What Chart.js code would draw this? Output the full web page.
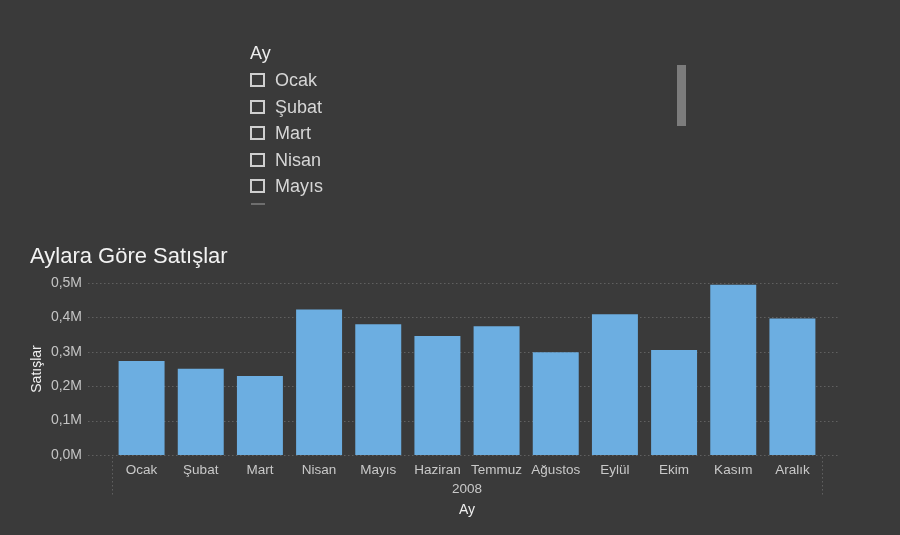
<!DOCTYPE html>
<html>
<head>
<meta charset="utf-8">
<script src="https://cdn.jsdelivr.net/npm/chart.js@4.4.1/dist/chart.umd.min.js"></script>
<style>
  html, body { margin:0; padding:0; background:#3a3a3a; width:900px; height:535px; overflow:hidden; }
  body { position:relative; font-family:"Liberation Sans", Arial, sans-serif; }
  #wrap { position:absolute; left:0; top:0; width:900px; height:535px; }
  .txt { position:absolute; white-space:nowrap; line-height:1; }
  .slHead { left:250px; top:44px; font-size:18px; color:#ececec; }
  .item { position:absolute; left:250px; height:20px; }
  .item .box { position:absolute; left:0px; top:1px; width:11px; height:10px; border:2px solid #cfcfcf; }
  .item .lab { position:absolute; left:25px; top:-1px; font-size:18px; color:#d6d6d6; line-height:18px; }
  .scroll { position:absolute; left:677px; top:65px; width:9px; height:61px; background:#7c7c7c; }
  .cut { position:absolute; left:251px; top:203px; width:14px; height:2px; background:#6e6e6e; }
  .title { left:30px; top:245px; font-size:22px; color:#f2f2f2; }
</style>
</head>
<body>
<div id="wrap"><canvas id="c" width="900" height="535"></canvas></div>
<div class="txt slHead">Ay</div>
<div id="slicer"></div>
<div class="scroll"></div>
<div class="cut"></div>
<div class="txt title">Aylara Göre Satışlar</div>
<script>
// ---- data ----
const months = ["Ocak","Şubat","Mart","Nisan","Mayıs","Haziran","Temmuz","Ağustos","Eylül","Ekim","Kasım","Aralık"];
const sales = [273000, 251000, 230000, 423000, 380000, 346000, 374000, 299000, 409000, 305000, 495000, 397000];
const yearLabels = ["2008"];
const slicerItems = ["Ocak","Şubat","Mart","Nisan","Mayıs"];
const yTicks = [0, 100000, 200000, 300000, 400000, 500000];

// slicer
const sl = document.getElementById('slicer');
slicerItems.forEach((t, i) => {
  const d = document.createElement('div');
  d.className = 'item';
  d.style.top = (72 + i * 26.5) + 'px';
  d.innerHTML = '<div class="box"></div><div class="lab">' + t + '</div>';
  sl.appendChild(d);
});

const FONT = "'Liberation Sans', Arial, sans-serif";

const decor = {
  id: 'decor',
  beforeDatasetsDraw(chart) {
    const ctx = chart.ctx, y = chart.scales.y, x = chart.scales.x;
    ctx.save();
    ctx.strokeStyle = '#606060';
    ctx.lineWidth = 1;
    ctx.setLineDash([1.5, 2.5]);
    yTicks.forEach(v => {
      const py = Math.round(y.getPixelForValue(v)) + 0.5;
      ctx.beginPath();
      ctx.moveTo(88, py);
      ctx.lineTo(840, py);
      ctx.stroke();
    });
    // group box verticals
    [x.left, x.right].forEach(px => {
      const p = Math.round(px) + 0.5;
      ctx.beginPath();
      ctx.moveTo(p, y.bottom + 2);
      ctx.lineTo(p, y.bottom + 42);
      ctx.stroke();
    });
    ctx.restore();
  }
};

new Chart(document.getElementById('c'), {
  type: 'bar',
  data: {
    labels: months,
    datasets: [{
      data: sales,
      backgroundColor: '#6caee1',
      borderWidth: 0,
      categoryPercentage: 1,
      barPercentage: 0.777,
      xAxisID: 'x',
      yAxisID: 'y'
    }]
  },
  options: {
    responsive: false,
    animation: false,
    layout: { padding: { left: 0, right: 78, top: 283, bottom: 13 } },
    plugins: { legend: { display: false }, tooltip: { enabled: false }, title: { display: false } },
    scales: {
      x: {
        position: 'bottom',
        grid: { display: false, drawTicks: false },
        border: { display: false },
        ticks: { color: '#c9c9c9', font: { family: FONT, size: 13.5 }, padding: 7, maxRotation: 0, autoSkip: false },
        afterFit(s) { s.height = 24; }
      },
      x2: {
        type: 'category',
        labels: yearLabels,
        position: 'bottom',
        grid: { display: false, drawTicks: false },
        border: { display: false },
        ticks: { color: '#c9c9c9', font: { family: FONT, size: 13.5 }, padding: 2 },
        title: { display: true, text: 'Ay', color: '#f0f0f0', font: { family: FONT, size: 14 }, padding: { top: 0, bottom: 3 } },
        afterFit(s) { s.height = 43; }
      },
      y: {
        min: 0, max: 500000,
        afterBuildTicks(s) { s.ticks = yTicks.map(v => ({ value: v })); },
        grid: { display: false, drawTicks: false },
        border: { display: false },
        ticks: {
          color: '#c4c4c4', padding: 30,
          font: { family: FONT, size: 14 },
          callback: v => (v / 1000000).toFixed(1).replace('.', ',') + 'M'
        },
        title: { display: true, text: 'Satışlar', color: '#f0f0f0', font: { family: FONT, size: 14 }, padding: { top: 29, bottom: 0 } },
        afterFit(s) { s.width = 112; }
      }
    }
  },
  plugins: [decor]
});
</script>
</body>
</html>
